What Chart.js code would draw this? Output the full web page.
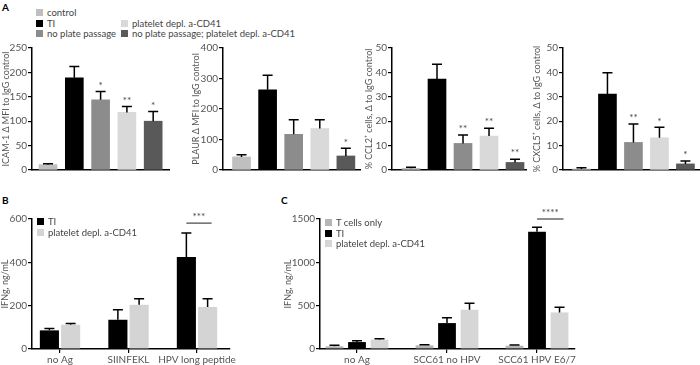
<!DOCTYPE html>
<html>
<head>
<meta charset="utf-8">
<script src="https://cdn.jsdelivr.net/npm/chart.js@4.4.1/dist/chart.umd.min.js"></script>
<style>
  body { margin: 0; width: 700px; height: 365px; position: relative; background: #fff; overflow: hidden; font-family: Lato, sans-serif; }
  canvas { position: absolute; }
  .lab { position: absolute; font-weight: bold; font-size: 10px; color: #000; }
  .leg { position: absolute; font-size: 9.5px; color: #444; white-space: nowrap; line-height: 11px; }
  .leg i { display: inline-block; width: 7px; height: 7px; margin-right: 4px; vertical-align: 0px; }
</style>
</head>
<body>
<div class="lab" style="left:2px;top:1px">A</div>
<div class="lab" style="left:2px;top:194px">B</div>
<div class="lab" style="left:281px;top:194px">C</div>
<canvas id="a1" width="169" height="140" style="left:1px;top:40px"></canvas>
<canvas id="a2" width="170" height="140" style="left:191px;top:40px"></canvas>
<canvas id="a3" width="163" height="140" style="left:364px;top:40px"></canvas>
<canvas id="a4" width="168" height="140" style="left:532px;top:40px"></canvas>
<canvas id="b" width="240" height="160" style="left:0px;top:205px"></canvas>
<canvas id="c" width="300" height="160" style="left:283px;top:205px"></canvas>
<div id="legends"></div>
<script>
// panel A: five conditions
const groupsA = ['control', 'TI', 'no plate passage', 'platelet depl. a-CD41', 'no plate passage; platelet depl. a-CD41'];
const icamMean = [11, 189, 144, 118, 100];
const icamSem = [2, 23, 17, 12, 20];
const icamStars = ['', '', '*', '**', '*'];
const plaurMean = [43, 263, 117, 136, 46];
const plaurSem = [7, 48, 48, 29, 25];
const plaurStars = ['', '', '', '', '*'];
const ccl2Mean = [0.7, 37.3, 10.9, 13.9, 3.1];
const ccl2Sem = [0.4, 6, 3.4, 3.2, 1.3];
const ccl2Stars = ['', '', '**', '**', '**'];
const cxcl5Mean = [0.4, 31.1, 11.3, 13.2, 2.5];
const cxcl5Sem = [0.5, 8.8, 7.6, 4.3, 1.2];
const cxcl5Stars = ['', '', '**', '*', '*'];

// panel B
const groupsB = ['no Ag', 'SIINFEKL', 'HPV long peptide'];
const tiB = [86, 135, 425];
const tiBSem = [9, 46, 110];
const plateletB = [112, 204, 194];
const plateletBSem = [6, 28, 38];

// panel C
const groupsC = ['no Ag', 'SCC61 no HPV', 'SCC61 HPV E6/7'];
const tcellsC = [31, 42, 38];
const tcellsCSem = [11, 8, 8];
const tiC = [80, 299, 1354];
const tiCSem = [16, 61, 50];
const plateletC = [107, 453, 422];
const plateletCSem = [12, 76, 61];

const colorsA = ['#bfbfbf', '#000000', '#8c8c8c', '#d9d9d9', '#595959'];
const grey = '#555';

Chart.defaults.font.family = 'Lato, sans-serif';
Chart.defaults.font.size = 10;
Chart.defaults.color = grey;

// legends as plain text
function legend(x, y, rowH, items) {
  const box = document.getElementById('legends');
  items.forEach((it, i) => {
    const d = document.createElement('div');
    d.className = 'leg';
    d.style.left = x + 'px';
    d.style.top = (y + i * rowH) + 'px';
    d.innerHTML = '<i style="background:' + it[1] + '"></i>' + it[0];
    box.appendChild(d);
  });
}
legend(36, 7, 10.5, [[groupsA[0], colorsA[0]], [groupsA[1], colorsA[1]], [groupsA[2], colorsA[2]]]);
legend(121, 17.5, 10.5, [[groupsA[3], colorsA[3]], [groupsA[4], colorsA[4]]]);
legend(37, 216, 10.5, [['TI', '#000'], ['platelet depl. a-CD41', '#d4d4d4']]);
legend(325, 217, 10.5, [['T cells only', '#b5b5b5'], ['TI', '#000'], ['platelet depl. a-CD41', '#d6d6d6']]);

// error bars, asterisks and significance lines
function errorBars(sig) {
  return {
    id: 'errorBars',
    afterDatasetsDraw(chart) {
      const ctx = chart.ctx;
      const y = chart.scales.y;
      ctx.save();
      ctx.font = '10px Lato, sans-serif';
      ctx.textAlign = 'center';
      ctx.textBaseline = 'bottom';
      ctx.fillStyle = '#444';
      chart.data.datasets.forEach((ds, di) => {
        chart.getDatasetMeta(di).data.forEach((bar, i) => {
          const top = y.getPixelForValue(ds.data[i].y + ds.sem[i]);
          ctx.strokeStyle = '#000';
          ctx.lineWidth = 1.5;
          ctx.beginPath();
          ctx.moveTo(bar.x, bar.y);
          ctx.lineTo(bar.x, top);
          ctx.moveTo(bar.x - 5, top);
          ctx.lineTo(bar.x + 5, top);
          ctx.stroke();
          if (ds.stars && ds.stars[i]) ctx.fillText(ds.stars[i], bar.x, top - 1);
        });
      });
      (sig || []).forEach(s => {
        const a = chart.getDatasetMeta(s.from).data[s.group];
        const b = chart.getDatasetMeta(s.to).data[s.group];
        const ly = y.getPixelForValue(s.value);
        ctx.strokeStyle = '#444';
        ctx.lineWidth = 1.2;
        ctx.beginPath();
        ctx.moveTo(a.x, ly);
        ctx.lineTo(b.x + 4, ly);
        ctx.stroke();
        ctx.fillText(s.text, (a.x + b.x + 4) / 2, ly - 1);
      });
      ctx.restore();
    }
  };
}

function toPoints(values) {
  return values.map((v, i) => ({ x: i, y: v }));
}

function barChart(id, o) {
  return new Chart(document.getElementById(id), {
    type: 'bar',
    data: { datasets: o.datasets },
    options: {
      responsive: false,
      animation: false,
      layout: { padding: { top: o.padTop, right: o.padRight || 0, left: 0, bottom: 0 } },
      plugins: { legend: { display: false }, tooltip: { enabled: false } },
      scales: {
        x: {
          type: 'linear',
          offset: false,
          min: o.xMin,
          max: o.xMax,
          afterFit: s => { s.height = o.xh; s.paddingLeft = 0; s.paddingRight = 0; },
          grid: { display: !!o.groups, offset: false, drawOnChartArea: false, drawTicks: true, tickLength: 4, color: '#000', lineWidth: 1.2 },
          border: { display: true, color: '#000', width: 1.5 },
          ticks: {
            display: !!o.groups,
            stepSize: 1,
            includeBounds: false,
            padding: 1,
            maxRotation: 0,
            autoSkip: false,
            callback: v => (o.groups && Number.isInteger(v) ? o.groups[v] : '')
          }
        },
        y: {
          min: 0,
          max: o.yMax,
          afterFit: s => { s.width = o.yw; },
          grid: { drawOnChartArea: false, drawTicks: true, tickLength: 4, color: '#000', lineWidth: 1.2 },
          border: { display: true, color: '#000', width: 1.5 },
          ticks: { stepSize: o.yStep, padding: 1, callback: v => String(v) },
          title: { display: true, text: o.yTitle, padding: 0, font: { size: 9 } }
        }
      }
    },
    plugins: [errorBars(o.sig)]
  });
}

function panelA(id, mean, sem, stars, o) {
  return barChart(id, Object.assign({
    padTop: 8, xh: 10,
    datasets: [{ data: toPoints(mean), sem: sem, stars: stars, backgroundColor: colorsA, barThickness: 18 }]
  }, o));
}

panelA('a1', icamMean, icamSem, icamStars, { yw: 31, xMin: -0.61, xMax: 4.64, yMax: 250, yStep: 50, yTitle: 'ICAM-1 Δ MFI to IgG control' });
panelA('a2', plaurMean, plaurSem, plaurStars, { yw: 32, xMin: -0.71, xMax: 4.58, yMax: 400, yStep: 100, yTitle: 'PLAUR Δ MFI to IgG control' });
panelA('a3', ccl2Mean, ccl2Sem, ccl2Stars, { yw: 28, xMin: -0.73, xMax: 4.46, yMax: 50, yStep: 10, yTitle: '% CCL2⁺ cells, Δ to IgG control' });
panelA('a4', cxcl5Mean, cxcl5Sem, cxcl5Stars, { yw: 31, xMin: -0.71, xMax: 4.56, yMax: 50, yStep: 10, yTitle: '% CXCL5⁺ cells, Δ to IgG control' });

barChart('b', {
  padTop: 14, padRight: 10, xh: 16, yw: 32, xMin: -0.409, xMax: 2.482,
  yMax: 600, yStep: 200, yTitle: 'IFNg, ng/mL', groups: groupsB,
  sig: [{ group: 2, from: 0, to: 1, value: 581, text: '***' }],
  datasets: [
    { label: 'TI', data: toPoints(tiB), sem: tiBSem, backgroundColor: '#000', categoryPercentage: 0.62, barPercentage: 0.9 },
    { label: 'platelet depl. a-CD41', data: toPoints(plateletB), sem: plateletBSem, backgroundColor: '#d4d4d4', categoryPercentage: 0.62, barPercentage: 0.9 }
  ]
});

barChart('c', {
  padTop: 14, padRight: 8, xh: 16, yw: 37, xMin: -0.411, xMax: 2.422,
  yMax: 1500, yStep: 500, yTitle: 'IFNg, ng/mL', groups: groupsC,
  sig: [{ group: 2, from: 1, to: 2, value: 1500, text: '****' }],
  datasets: [
    { label: 'T cells only', data: toPoints(tcellsC), sem: tcellsCSem, backgroundColor: '#b5b5b5', categoryPercentage: 0.75, barPercentage: 0.79 },
    { label: 'TI', data: toPoints(tiC), sem: tiCSem, backgroundColor: '#000', categoryPercentage: 0.75, barPercentage: 0.79 },
    { label: 'platelet depl. a-CD41', data: toPoints(plateletC), sem: plateletCSem, backgroundColor: '#d6d6d6', categoryPercentage: 0.75, barPercentage: 0.79 }
  ]
});
</script>
</body>
</html>
